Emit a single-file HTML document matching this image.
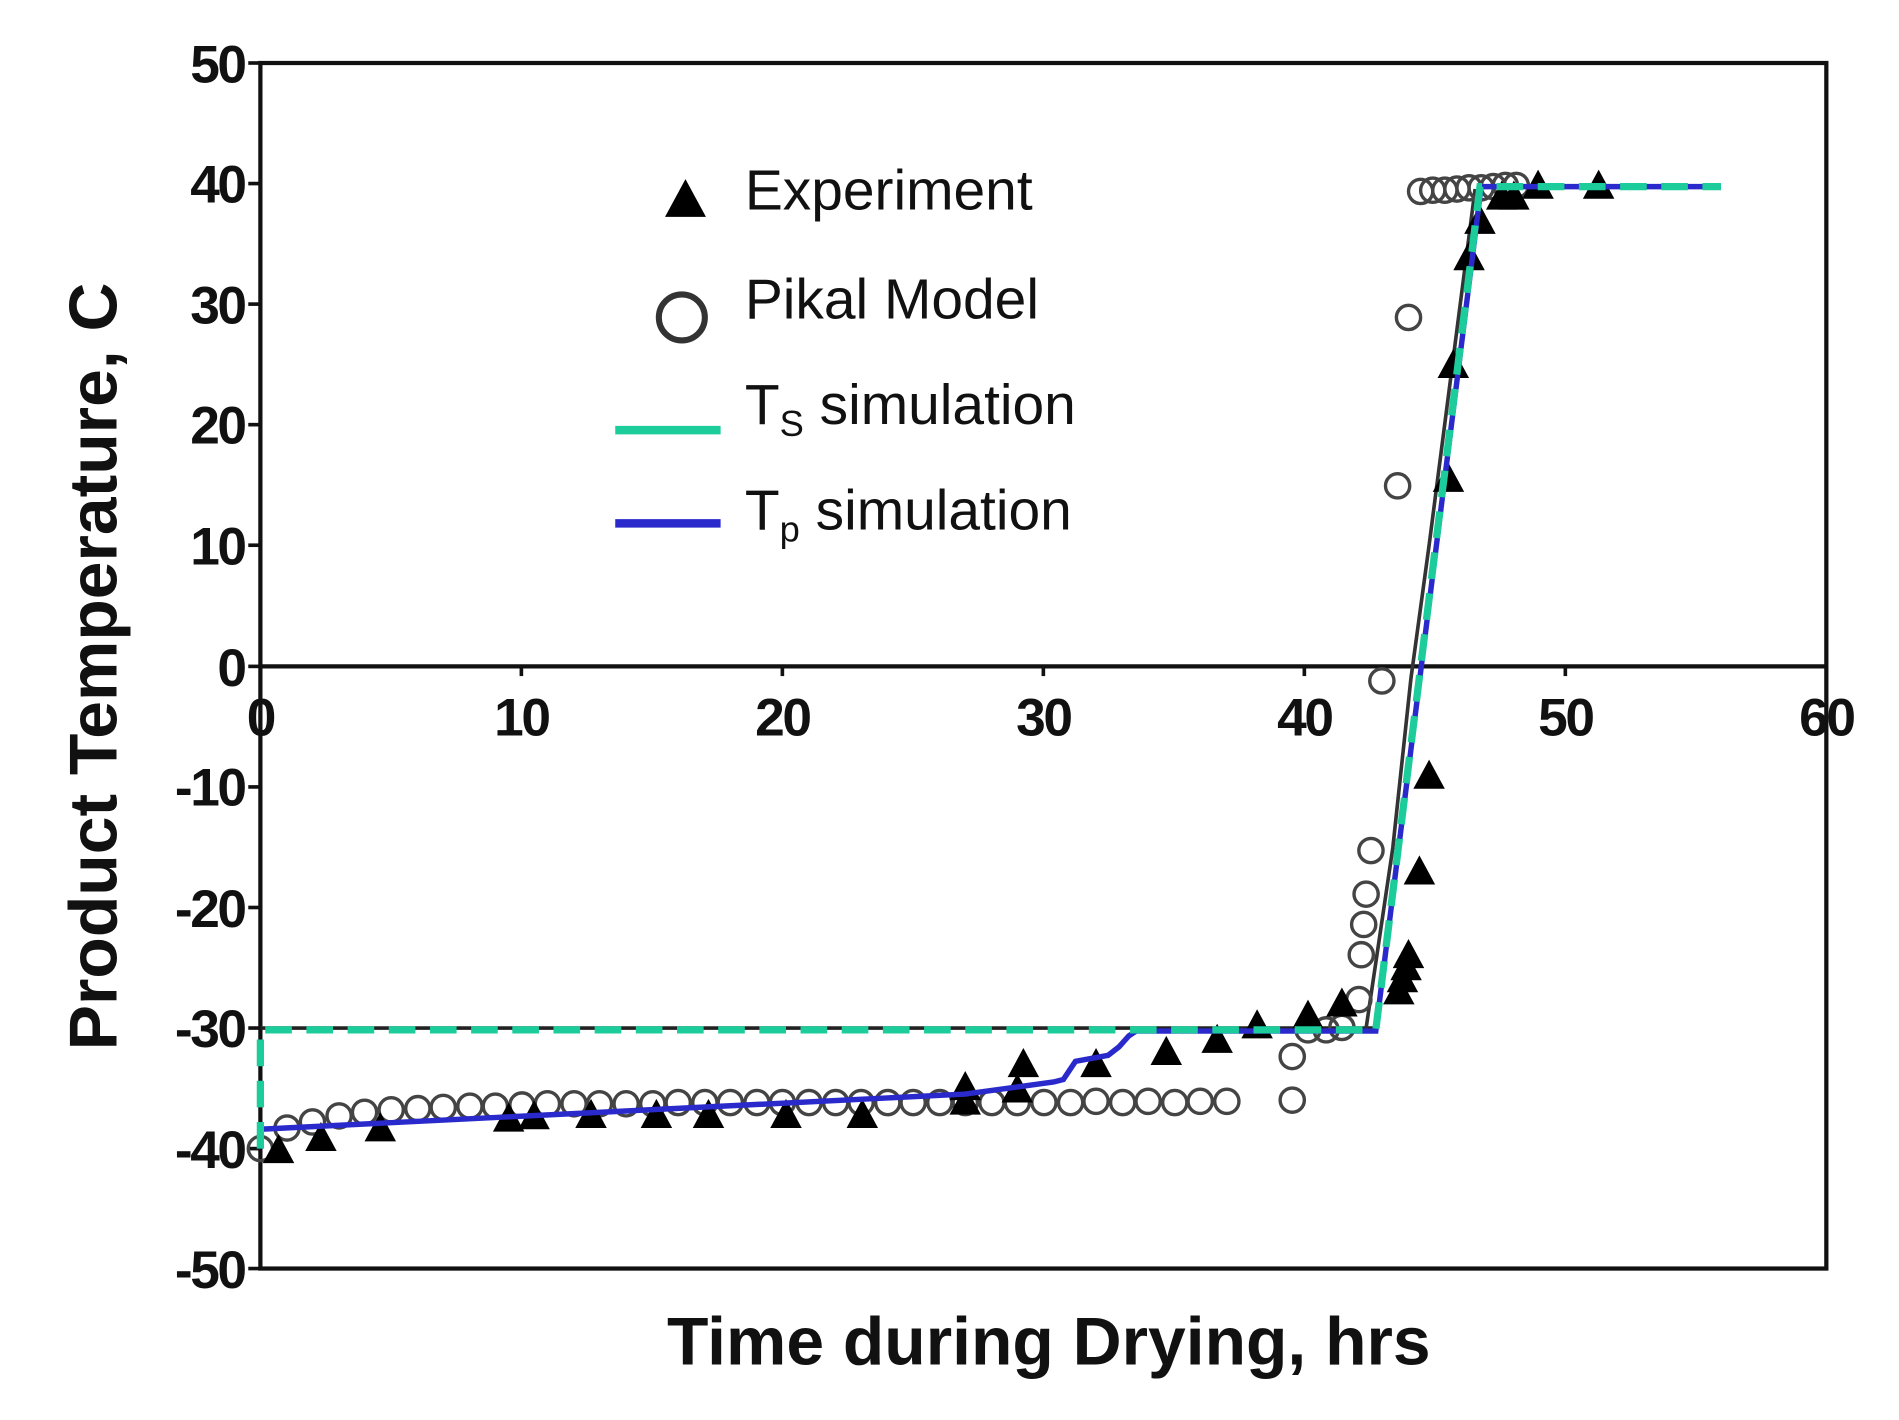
<!DOCTYPE html>
<html><head><meta charset="utf-8"><style>
html,body{margin:0;padding:0;background:#fff;}
svg{display:block;}
text{font-family:"Liberation Sans",Arial,sans-serif;}
</style></head><body>
<svg width="1899" height="1420" viewBox="0 0 1568 1172" preserveAspectRatio="none" xmlns="http://www.w3.org/2000/svg">
<defs>
<polygon id="tri" points="0,-14 13,10 -13,10" fill="#000"/>
<circle id="cir" r="10" fill="none" stroke="#444" stroke-width="2.8"/>
</defs>
<rect width="1568" height="1172" fill="#fff"/>
<rect x="215" y="52" width="1293" height="995" fill="none" stroke="#111" stroke-width="3.5"/>
<line x1="215" y1="550" x2="1508" y2="550" stroke="#111" stroke-width="3.5"/>
<g stroke="#111" stroke-width="3">
<line x1="205" y1="52" x2="215" y2="52"/><line x1="205" y1="151.5" x2="215" y2="151.5"/>
<line x1="205" y1="251" x2="215" y2="251"/><line x1="205" y1="350.5" x2="215" y2="350.5"/>
<line x1="205" y1="450" x2="215" y2="450"/><line x1="205" y1="550" x2="215" y2="550"/>
<line x1="205" y1="649.5" x2="215" y2="649.5"/><line x1="205" y1="749" x2="215" y2="749"/>
<line x1="205" y1="848.5" x2="215" y2="848.5"/><line x1="205" y1="948" x2="215" y2="948"/>
<line x1="205" y1="1047" x2="215" y2="1047"/>
<line x1="430.5" y1="550" x2="430.5" y2="558"/><line x1="646" y1="550" x2="646" y2="558"/>
<line x1="861.5" y1="550" x2="861.5" y2="558"/><line x1="1077" y1="550" x2="1077" y2="558"/>
<line x1="1292.5" y1="550" x2="1292.5" y2="558"/>
</g>
<g font-size="44" font-weight="bold" text-anchor="end" fill="#111" letter-spacing="-2">
<text x="202" y="68">50</text><text x="202" y="167">40</text><text x="202" y="267">30</text>
<text x="202" y="366">20</text><text x="202" y="466">10</text><text x="202" y="566">0</text>
<text x="202" y="665">-10</text><text x="202" y="765">-20</text><text x="202" y="864">-30</text>
<text x="202" y="964">-40</text><text x="202" y="1063">-50</text>
</g>
<g font-size="44" font-weight="bold" text-anchor="middle" fill="#111" letter-spacing="-2">
<text x="215" y="607">0</text><text x="430.5" y="607">10</text><text x="646" y="607">20</text>
<text x="861.5" y="607">30</text><text x="1077" y="607">40</text><text x="1292.5" y="607">50</text>
<text x="1508" y="607">60</text>
</g>
<text x="866" y="1126" font-size="56" font-weight="bold" text-anchor="middle" fill="#111">Time during Drying, hrs</text>
<text transform="translate(96,550) rotate(-90)" font-size="56" font-weight="bold" text-anchor="middle" fill="#111">Product Temperature, C</text>

<polyline points="215,848.5 1136,848.5 1223,152" fill="none" stroke="#222" stroke-width="3"/>
<polyline points="1128,848.5 1150,700 1165,560 1180,450 1218,156" fill="none" stroke="#333" stroke-width="3"/>

<g>
<use href="#cir" x="215" y="948"/><use href="#cir" x="237" y="931"/><use href="#cir" x="258" y="926"/>
<use href="#cir" x="280" y="921"/><use href="#cir" x="301" y="918"/><use href="#cir" x="323" y="916"/>
<use href="#cir" x="345" y="915"/><use href="#cir" x="366" y="914"/><use href="#cir" x="388" y="913"/>
<use href="#cir" x="409" y="913"/><use href="#cir" x="431" y="912"/><use href="#cir" x="452" y="911"/>
<use href="#cir" x="474" y="911"/><use href="#cir" x="495" y="911"/><use href="#cir" x="517" y="911"/>
<use href="#cir" x="539" y="911"/><use href="#cir" x="560" y="910"/><use href="#cir" x="582" y="910"/>
<use href="#cir" x="603" y="910"/><use href="#cir" x="625" y="910"/><use href="#cir" x="646" y="910"/>
<use href="#cir" x="668" y="910"/><use href="#cir" x="690" y="910"/><use href="#cir" x="711" y="910"/>
<use href="#cir" x="733" y="910"/><use href="#cir" x="754" y="910"/><use href="#cir" x="776" y="910"/>
<use href="#cir" x="797" y="910"/><use href="#cir" x="819" y="910"/><use href="#cir" x="840" y="910"/>
<use href="#cir" x="862" y="910"/><use href="#cir" x="884" y="910"/><use href="#cir" x="905" y="909"/>
<use href="#cir" x="927" y="910"/><use href="#cir" x="948" y="909"/><use href="#cir" x="970" y="910"/>
<use href="#cir" x="991" y="909"/><use href="#cir" x="1013" y="909"/>
<use href="#cir" x="1067" y="872"/><use href="#cir" x="1067" y="908"/>
<use href="#cir" x="1080" y="850"/><use href="#cir" x="1095" y="850"/><use href="#cir" x="1108" y="848"/>
<use href="#cir" x="1122" y="825"/><use href="#cir" x="1124" y="788"/><use href="#cir" x="1126" y="763"/>
<use href="#cir" x="1128" y="738"/><use href="#cir" x="1132" y="702"/>
<use href="#cir" x="1141" y="562"/><use href="#cir" x="1154" y="401"/><use href="#cir" x="1163" y="262"/>
<use href="#cir" x="1173" y="158"/><use href="#cir" x="1183" y="157"/><use href="#cir" x="1193" y="157"/>
<use href="#cir" x="1203" y="156"/><use href="#cir" x="1213" y="155"/><use href="#cir" x="1223" y="155"/>
<use href="#cir" x="1233" y="154"/><use href="#cir" x="1243" y="153"/><use href="#cir" x="1252" y="153"/>
</g>

<g>
<use href="#tri" x="230" y="950"/><use href="#tri" x="265" y="940"/><use href="#tri" x="314" y="932"/>
<use href="#tri" x="420" y="924"/><use href="#tri" x="441" y="922"/><use href="#tri" x="488" y="921"/>
<use href="#tri" x="542" y="921"/><use href="#tri" x="585" y="921"/><use href="#tri" x="649" y="921"/>
<use href="#tri" x="712" y="921"/><use href="#tri" x="797" y="898"/><use href="#tri" x="797" y="910"/>
<use href="#tri" x="845" y="879"/><use href="#tri" x="840" y="900"/><use href="#tri" x="905" y="879"/>
<use href="#tri" x="963" y="869"/><use href="#tri" x="1005" y="859"/><use href="#tri" x="1038" y="847"/>
<use href="#tri" x="1080" y="839"/><use href="#tri" x="1108" y="829"/><use href="#tri" x="1155" y="819"/>
<use href="#tri" x="1158" y="809"/><use href="#tri" x="1161" y="799"/><use href="#tri" x="1163" y="789"/>
<use href="#tri" x="1172" y="720"/><use href="#tri" x="1180" y="641"/><use href="#tri" x="1196" y="396"/>
<use href="#tri" x="1200" y="302"/><use href="#tri" x="1213" y="213"/><use href="#tri" x="1222" y="183"/>
<use href="#tri" x="1240" y="163"/><use href="#tri" x="1250" y="163"/><use href="#tri" x="1270" y="154"/>
<use href="#tri" x="1320" y="154"/>
</g>

<polyline points="215,948 215,932 797,903 870,893 878,891 888,876 915,871 924,864 932,855 938,851 1136,851 1223,154 1421,154" fill="none" stroke="#2a2acc" stroke-width="4.5"/>
<polyline points="215,948 215,850 1136,850 1222,154 1421,154" fill="none" stroke="#1ccc9a" stroke-width="6" stroke-dasharray="22,12"/>

<use href="#tri" x="566" y="166" transform="translate(566,166) scale(1.3) translate(-566,-166)"/>
<text x="615" y="173" font-size="47" fill="#111">Experiment</text>
<circle cx="563" cy="262" r="19" fill="none" stroke="#333" stroke-width="5"/>
<text x="615" y="263" font-size="47" fill="#111">Pikal Model</text>
<line x1="508" y1="355" x2="595" y2="355" stroke="#1ccc9a" stroke-width="7"/>
<text x="615" y="350" font-size="47" fill="#111">T<tspan font-size="30" dy="10">S</tspan><tspan dy="-10"> simulation</tspan></text>
<line x1="508" y1="432" x2="595" y2="432" stroke="#2a2acc" stroke-width="7"/>
<text x="615" y="437" font-size="47" fill="#111">T<tspan font-size="30" dy="10">p</tspan><tspan dy="-10"> simulation</tspan></text>
</svg>
</body></html>
